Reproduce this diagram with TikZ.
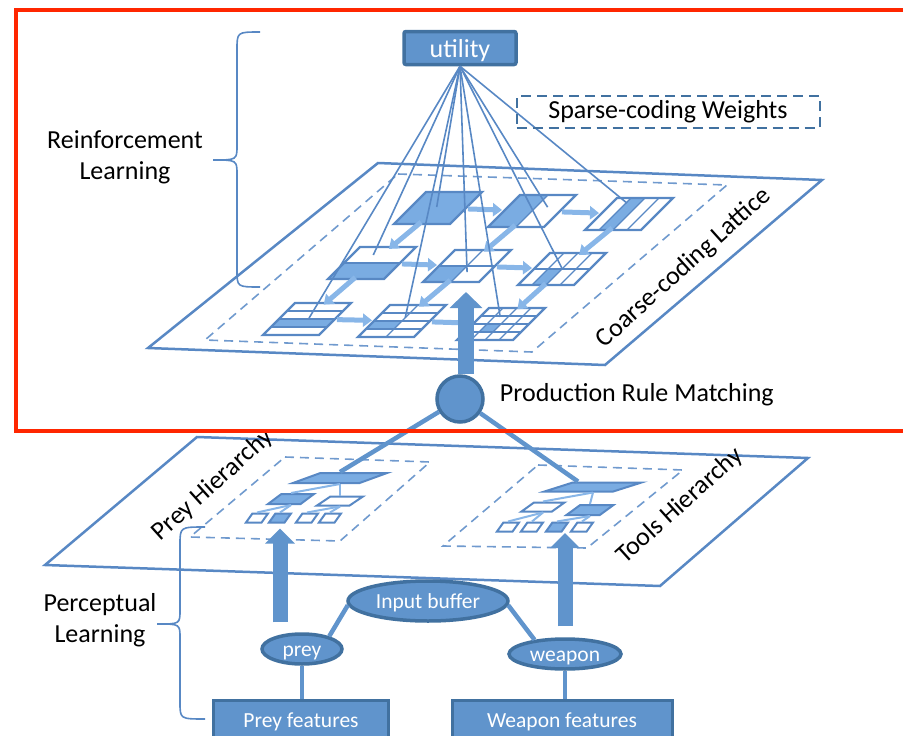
\documentclass[tikz,border=0pt]{standalone}
\usepackage{fontspec}
\setmainfont{Carlito}
\usetikzlibrary{arrows.meta,positioning,shapes.geometric,calc}
\definecolor{nodeblue}{RGB}{96,148,204}
\definecolor{edgeblue}{RGB}{65,113,160}
\definecolor{lineblue}{RGB}{88,136,196}
\definecolor{dashblue}{RGB}{112,154,206}
\definecolor{cellblue}{RGB}{122,172,226}
\definecolor{arrowblue}{RGB}{136,182,232}
\definecolor{framered}{RGB}{255,38,0}

\begin{document}
\begin{tikzpicture}[x=1pt,y=-1pt,>=Stealth,every node/.style={font=\fontsize{26}{31}\selectfont}]
    \tikzset{plane/.style={draw=lineblue,line width=2.5pt}}
    \tikzset{region/.style={draw=dashblue,line width=1.6pt,dash pattern=on 9pt off 6pt}}
    \tikzset{cellbox/.style={draw=lineblue,line width=2.4pt}}
    \tikzset{cellgrid/.style={draw=lineblue,line width=1.2pt}}
    \tikzset{latarrow/.style={draw=arrowblue,line width=5pt,-{Triangle[width=13pt,length=9pt]}}}
    \tikzset{fan/.style={draw=lineblue,line width=1.6pt}}
    \tikzset{bigarrow/.style={draw=nodeblue,line width=16pt,-{Triangle[width=32pt,length=16pt]}}}
    \tikzset{solidnode/.style={draw=edgeblue,fill=nodeblue,line width=3.5pt,text=white,inner sep=0pt,text depth=0pt}}
    \tikzset{ellnode/.style={solidnode,ellipse,text height=15pt,font=\fontsize{21.5}{25}\selectfont}}
    \tikzset{featbox/.style={solidnode,rectangle,line width=3pt,text height=15pt,font=\fontsize{21.5}{25}\selectfont}}
    \tikzset{hbox/.style={trapezium,trapezium left angle=55,trapezium right angle=125,trapezium stretches=true,draw=lineblue,fill=white,line width=2pt,inner sep=1pt}}
    \tikzset{hlink/.style={draw=arrowblue,line width=2pt}}
    \tikzset{link/.style={draw=nodeblue,line width=4.5pt}}
    \tikzset{brace/.style={draw=lineblue,line width=1.6pt}}

    \useasboundingbox (0,0) rectangle (903,736);

    % Lattice plane
    \draw[plane] (378,163) -- (822,180) -- (605,365) -- (148,348) -- cycle;
    \draw[region] (398,174) -- (727,185) -- (532,352) -- (205,340) -- cycle;

    % Lattice cells
    \foreach \n/\bx/\by/\nc/\nr/\fu/\fv/\pu/\pv in {
        a/394/224/1/1/0/0/0.46/0.53, b/488/227/2/1/0/0/0.71/0.62, c/585/230/4/1/1/0/0.27/0.84,
        d/328/279/1/2/0/0/0.38/0.75, e/423/282/2/2/0/0/0.61/0.31, f/518/285/4/2/1/0/0.48/0.53,
        g/263/335/1/4/0/1/0.52/0.53, h/358/337/2/4/0/1/0.50/0.60, i/457/340/4/4/1/1/0.36/0.72}{
      \begin{scope}[shift={(\bx,\by)},x={(56pt,0pt)},y={(32pt,32pt)}]
        \fill[cellblue] ({\fu/\nc},{\fv/\nr}) -- ({(\fu+1)/\nc},{\fv/\nr})
          -- ({(\fu+1)/\nc},{(\fv+1)/\nr}) -- ({\fu/\nc},{(\fv+1)/\nr}) -- cycle;
        \foreach \k in {1,...,\nc} \draw[cellgrid] ({\k/\nc},0) -- ({\k/\nc},1);
        \foreach \k in {1,...,\nr} \draw[cellgrid] (0,{\k/\nr}) -- (1,{\k/\nr});
        \draw[cellbox] (0,0) -- (1,0) -- (1,1) -- (0,1) -- cycle;
        \coordinate (\n) at (0.5,0.5);
        \coordinate (\n-w) at (\pu,\pv);
      \end{scope}
    }
    \foreach \s/\t in {a/b,b/c,d/e,e/f,g/h,h/i}
      \draw[latarrow,shorten <=30pt,shorten >=30pt] (\s) -- (\t);
    \foreach \s/\t in {a/d,b/e,c/f,d/g,e/h,f/i}
      \draw[latarrow,shorten <=22pt,shorten >=22pt] (\s) -- (\t);

    % Utility and weights
    \node[solidnode,rounded corners=2pt,text height=18pt,minimum width=112pt,minimum height=33pt] (util) at (460,48) {utility};
    \foreach \n in {a,...,i}
      \draw[fan] (util.south) -- (\n-w);
    \node[draw=edgeblue,line width=2pt,dash pattern=on 10pt off 6pt,minimum width=303pt,minimum height=32pt] (scw) at (668,112) {Sparse-coding Weights};
    \node[rotate=42] (latlabel) at (684,268) {Coarse-coding Lattice};

    \node[align=center] (rl) at (125,157) {Reinforcement\\Learning};
    \draw[brace] (260,32) .. controls (237,32) .. (237,50) -- (237,145)
      .. controls (237,160) .. (213,160) .. controls (237,160) .. (237,175)
      -- (237,270) .. controls (237,287) .. (260,287);

    % Production rule matching
    \node[solidnode,circle,minimum size=46pt] (prm) at (460,399) {};
    \node[right=15pt of prm,inner sep=0pt,yshift=4pt] (prmlabel) {Production Rule Matching};
    \coordinate (lattin) at (466,292);
    \draw[bigarrow] (prm.north -| lattin) -- (lattin);

    % Perceptual plane
    \draw[plane] (197,437) -- (808,458) -- (660,586) -- (45,565) -- cycle;
    \draw[region] (285,457) -- (430,462) -- (340,541) -- (190,537) -- cycle;
    \draw[region] (538,465) -- (683,470) -- (587,548) -- (443,546) -- cycle;

    % Prey hierarchy
    \node[hbox,fill=cellblue,minimum width=94pt,minimum height=10pt] (ptop) at (340,478) {};
    \node[hbox,fill=cellblue,minimum width=46pt,minimum height=10pt] (pm1) at (291,499) {};
    \node[hbox,minimum width=46pt,minimum height=9pt] (pm2) at (340,501) {};
    \foreach \n/\x/\f in {1/257/white,2/280/cellblue,3/307/white,4/330/white}
      \node[hbox,fill=\f,minimum width=22pt,minimum height=9pt] (pb\n) at (\x,518) {};
    \draw[hlink] (ptop.south) -- (pm1.north);
    \draw[hlink] (ptop.south) -- (pm2.north);
    \foreach \c in {1,2} \draw[hlink] (pm1.south) -- (pb\c.north);
    \foreach \c in {3,4} \draw[hlink] (pm2.south) -- (pb\c.north);

    % Tools hierarchy
    \node[hbox,fill=cellblue,minimum width=97pt,minimum height=9pt] (ttop) at (593,487) {};
    \node[hbox,minimum width=43pt,minimum height=9pt] (tm1) at (543,507) {};
    \node[hbox,fill=cellblue,minimum width=47pt,minimum height=10pt] (tm2) at (590,510) {};
    \foreach \n/\x/\f in {1/508/white,2/532/white,3/557/cellblue,4/582/white}
      \node[hbox,fill=\f,minimum width=22pt,minimum height=9pt] (tb\n) at (\x,527) {};
    \draw[hlink] (ttop.south) -- (tm1.north);
    \draw[hlink] (ttop.south) -- (tm2.north);
    \foreach \c in {1,2} \draw[hlink] (tm1.south) -- (tb\c.north);
    \foreach \c in {3,4} \draw[hlink] (tm2.south) -- (tb\c.north);

    \draw[link] (prm) -- (ptop.north);
    \draw[link] (prm) -- ([xshift=-15pt]ttop.north);

    \node[rotate=42] (preylabel) at (213,485) {Prey Hierarchy};
    \node[rotate=42] (toolslabel) at (680,506) {Tools Hierarchy};

    % Input side
    \node[ellnode,minimum width=160pt,minimum height=40pt] (buf) at (428,601) {Input buffer};
    \node[ellnode,minimum width=80pt,minimum height=30pt] (prey) at (302,649) {prey};
    \node[ellnode,minimum width=112pt,minimum height=30pt] (weapon) at (565,654) {weapon};
    \node[featbox,minimum width=175pt,minimum height=40pt] (pfeat) at (301,720) {Prey features};
    \node[featbox,minimum width=220pt,minimum height=40pt] (wfeat) at (562,720) {Weapon features};
    \draw[link] (buf.183) -- (prey.25);
    \draw[link] (buf.-3) -- (weapon.155);
    \draw[link] (prey.south) -- (prey.south |- pfeat.north);
    \draw[link] (weapon.south) -- (weapon.south |- wfeat.north);

    \coordinate (tup) at (565,533);
    \draw[bigarrow,line width=15pt,-{Triangle[width=29pt,length=15pt]},shorten <=10pt] (prey.north -| pb2) -- ([yshift=-5pt]pb2.south);
    \draw[bigarrow,line width=15pt,-{Triangle[width=29pt,length=15pt]},shorten <=11pt] (weapon.north -| tup) -- (tup);

    \node[align=center] (pl) at (100,620) {Perceptual\\Learning};
    \draw[brace] (205,527) .. controls (180,527) .. (180,545) -- (180,610)
      .. controls (180,624) .. (157,624) .. controls (180,624) .. (180,638)
      -- (180,702) .. controls (180,719) .. (205,719);

    % Frame
    \draw[framered,line width=4pt] (903,10) -- (16,10) -- (16,431) -- (903,431);
\end{tikzpicture}
\end{document}
